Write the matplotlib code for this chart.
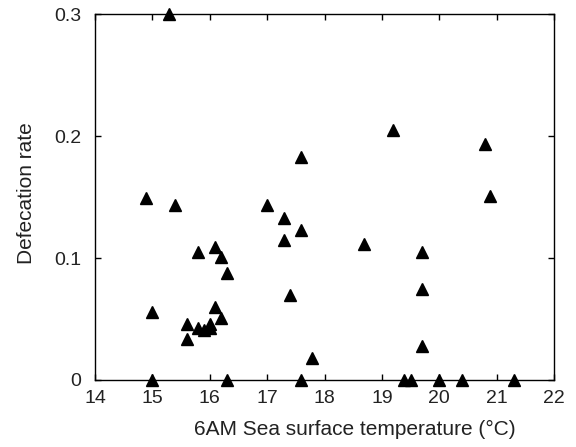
import matplotlib
matplotlib.use("Agg")
import matplotlib.pyplot as plt

# sea surface temperature (deg C) and defecation rate per observation
sst = [15.29, 14.89, 15.39, 15.00, 15.00, 15.60, 15.60, 15.79, 15.79, 15.90,
       16.00, 16.00, 16.09, 16.20, 16.30, 16.09, 16.20, 16.30, 16.99, 17.30,
       17.30, 17.59, 17.59, 17.40, 17.59, 17.79, 18.69, 19.20, 19.39, 19.51,
       19.70, 19.70, 19.70, 20.00, 20.39, 20.79, 20.89, 21.30]
rate = [0.300, 0.149, 0.144, 0.056, 0.000, 0.046, 0.034, 0.105, 0.043, 0.041,
        0.046, 0.043, 0.109, 0.101, 0.088, 0.060, 0.051, 0.000, 0.144, 0.133,
        0.115, 0.123, 0.183, 0.070, 0.000, 0.018, 0.112, 0.205, 0.000, 0.000,
        0.105, 0.075, 0.028, 0.000, 0.000, 0.194, 0.151, 0.000]

x_ticks = [14, 15, 16, 17, 18, 19, 20, 21, 22]
y_ticks = [0, 0.1, 0.2, 0.3]
y_tick_labels = ["0", "0.1", "0.2", "0.3"]

plt.rcParams["font.family"] = ["Liberation Sans", "DejaVu Sans"]

fig = plt.figure(figsize=(5.76, 4.47), dpi=100)
ax = fig.add_axes([95 / 576, 1 - 380 / 447, (554 - 95) / 576, (380 - 14.5) / 447])

ax.plot(sst, rate, linestyle="none", marker="^", markersize=8,
        color="black", clip_on=False, zorder=3)

ax.set_xlim(14, 22)
ax.set_ylim(0, 0.3)
ax.set_xticks(x_ticks)
ax.set_yticks(y_ticks)
ax.set_yticklabels(y_tick_labels)

for spine in ax.spines.values():
    spine.set_linewidth(1.0)
ax.tick_params(direction="in", length=4, width=1.0, labelsize=14,
               top=True, right=True, colors="black", labelcolor="#222222")
ax.tick_params(axis="x", pad=7)
ax.tick_params(axis="y", pad=10)

ax.set_xlabel("6AM Sea surface temperature (\u00b0C)", fontsize=15, color="#222222")
ax.set_ylabel("Defecation rate", fontsize=15, color="#222222")
ax.xaxis.set_label_coords(0.565, -0.11)
ax.yaxis.set_label_coords(-0.128, 0.51)

fig.savefig("out.png", dpi=100)
